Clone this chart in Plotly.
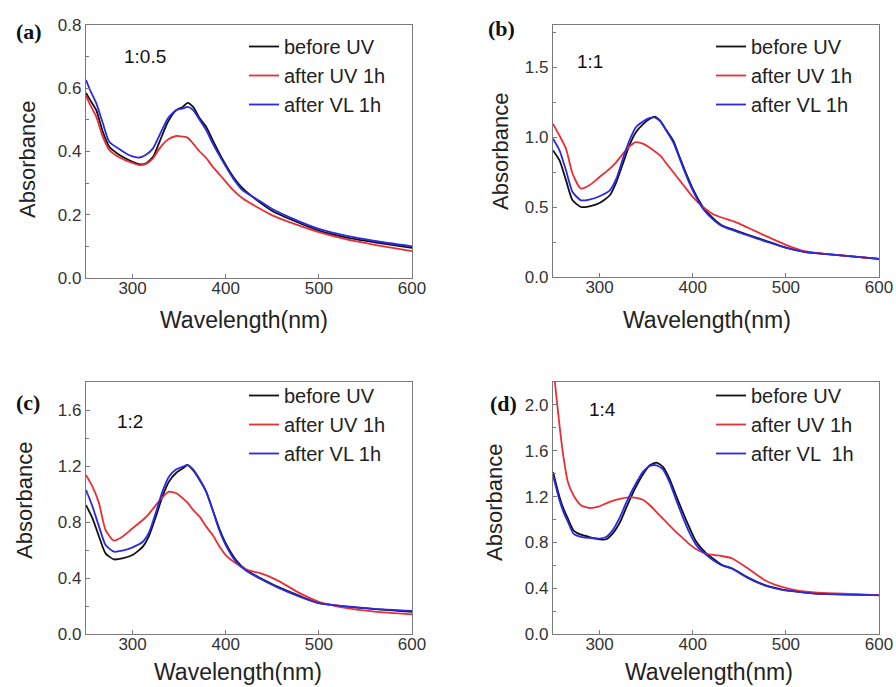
import plotly.graph_objects as go

# ---------------- data ----------------
wl_a = [250, 255, 261, 268, 275, 286, 296, 307, 314, 322, 329, 338, 347, 354, 359, 365, 372, 379, 386, 397, 408, 418, 433, 450, 470, 500, 530, 560, 600]
a_before = [0.585, 0.560, 0.531, 0.463, 0.415, 0.389, 0.373, 0.360, 0.362, 0.383, 0.431, 0.494, 0.531, 0.541, 0.554, 0.541, 0.505, 0.478, 0.436, 0.373, 0.320, 0.284, 0.247, 0.212, 0.185, 0.150, 0.128, 0.113, 0.095]
a_uv = [0.575, 0.545, 0.510, 0.447, 0.405, 0.381, 0.368, 0.357, 0.360, 0.378, 0.410, 0.438, 0.449, 0.447, 0.444, 0.425, 0.400, 0.380, 0.352, 0.315, 0.278, 0.252, 0.225, 0.198, 0.175, 0.145, 0.122, 0.105, 0.085]
a_vl = [0.626, 0.590, 0.553, 0.490, 0.431, 0.407, 0.389, 0.381, 0.389, 0.410, 0.452, 0.505, 0.531, 0.536, 0.541, 0.531, 0.500, 0.468, 0.426, 0.368, 0.315, 0.278, 0.250, 0.218, 0.190, 0.155, 0.133, 0.117, 0.100]

wl_b = [250, 257, 264, 271, 280, 289, 300, 311, 318, 325, 332, 339, 347, 354, 359, 365, 372, 379, 386, 393, 400, 411, 422, 431, 445, 460, 480, 500, 520, 550, 600]
b_before = [0.904, 0.833, 0.690, 0.548, 0.500, 0.505, 0.529, 0.584, 0.678, 0.809, 0.940, 1.034, 1.094, 1.130, 1.146, 1.117, 1.046, 0.975, 0.856, 0.738, 0.631, 0.500, 0.418, 0.370, 0.335, 0.300, 0.255, 0.210, 0.180, 0.160, 0.130]
b_uv = [1.094, 1.010, 0.916, 0.738, 0.631, 0.655, 0.714, 0.774, 0.821, 0.880, 0.932, 0.963, 0.951, 0.923, 0.899, 0.868, 0.809, 0.750, 0.690, 0.631, 0.572, 0.500, 0.448, 0.425, 0.395, 0.350, 0.288, 0.230, 0.185, 0.160, 0.130]
b_vl = [0.987, 0.904, 0.760, 0.607, 0.548, 0.553, 0.577, 0.619, 0.702, 0.845, 0.975, 1.070, 1.113, 1.136, 1.140, 1.113, 1.040, 0.963, 0.845, 0.726, 0.619, 0.488, 0.410, 0.365, 0.330, 0.295, 0.250, 0.210, 0.180, 0.160, 0.130]

wl_c = [250, 257, 264, 271, 280, 289, 300, 311, 318, 325, 332, 339, 347, 354, 359, 365, 372, 379, 386, 393, 400, 411, 422, 431, 437, 455, 480, 500, 530, 560, 600]
c_before = [0.921, 0.826, 0.695, 0.576, 0.533, 0.540, 0.564, 0.624, 0.707, 0.838, 0.981, 1.088, 1.152, 1.183, 1.207, 1.170, 1.100, 1.017, 0.886, 0.755, 0.648, 0.529, 0.457, 0.421, 0.400, 0.340, 0.270, 0.220, 0.195, 0.178, 0.158]
c_uv = [1.136, 1.052, 0.933, 0.743, 0.667, 0.695, 0.755, 0.814, 0.862, 0.921, 0.976, 1.017, 1.005, 0.969, 0.938, 0.886, 0.838, 0.767, 0.707, 0.629, 0.564, 0.505, 0.462, 0.443, 0.435, 0.385, 0.290, 0.230, 0.185, 0.160, 0.140]
c_vl = [1.029, 0.910, 0.767, 0.636, 0.588, 0.595, 0.619, 0.659, 0.731, 0.867, 1.017, 1.124, 1.176, 1.195, 1.207, 1.176, 1.105, 1.017, 0.886, 0.743, 0.636, 0.517, 0.452, 0.417, 0.395, 0.335, 0.265, 0.220, 0.197, 0.180, 0.165]

wl_d = [250, 257, 261, 266, 272, 280, 289, 300, 307, 314, 322, 329, 338, 347, 354, 361, 368, 375, 382, 390, 397, 404, 413, 422, 431, 442, 459, 477, 495, 513, 531, 600]
d_before = [1.415, 1.197, 1.100, 1.007, 0.905, 0.867, 0.847, 0.827, 0.827, 0.876, 0.978, 1.109, 1.269, 1.400, 1.473, 1.496, 1.459, 1.357, 1.211, 1.051, 0.920, 0.803, 0.716, 0.658, 0.605, 0.574, 0.495, 0.428, 0.390, 0.370, 0.355, 0.340]
d_uv = [2.350, 1.820, 1.560, 1.328, 1.211, 1.124, 1.100, 1.115, 1.140, 1.163, 1.180, 1.190, 1.190, 1.170, 1.124, 1.066, 1.007, 0.949, 0.891, 0.833, 0.780, 0.740, 0.705, 0.690, 0.681, 0.661, 0.574, 0.472, 0.413, 0.378, 0.364, 0.340]
d_vl = [1.386, 1.168, 1.070, 0.978, 0.876, 0.847, 0.839, 0.833, 0.847, 0.905, 1.022, 1.153, 1.299, 1.420, 1.467, 1.473, 1.438, 1.328, 1.176, 1.007, 0.876, 0.774, 0.701, 0.643, 0.600, 0.570, 0.490, 0.425, 0.388, 0.368, 0.352, 0.338]

series_names = ["before UV", "after UV 1h", "after VL 1h"]
series_names_d = ["before UV", "after UV 1h", "after VL  1h"]
panel_labels = ["(a)", "(b)", "(c)", "(d)"]
ratio_labels = ["1:0.5", "1:1", "1:2", "1:4"]
y_ranges = [[0, 0.8], [0, 1.8], [0, 1.8], [0, 2.2]]
y_tickvals = [[0.0, 0.2, 0.4, 0.6, 0.8], [0.0, 0.5, 1.0, 1.5], [0.0, 0.4, 0.8, 1.2, 1.6], [0.0, 0.4, 0.8, 1.2, 1.6, 2.0]]
y_minor = [0.1, 0.25, 0.2, 0.2]
x_tickvals = [300, 400, 500, 600]

colors = ["#111111", "#ea2e36", "#2a2ae6"]

W, H = 896, 687
# plot areas in pixels (left, right, top, bottom)
boxes = [(86, 412, 25, 278), (553, 879, 25, 277), (86, 412, 382, 634), (553, 879, 382, 634)]
legend_top = [27, 27, 376, 376]

panels = [
    (wl_a, [a_before, a_uv, a_vl]),
    (wl_b, [b_before, b_uv, b_vl]),
    (wl_c, [c_before, c_uv, c_vl]),
    (wl_d, [d_before, d_uv, d_vl]),
]

fig = go.Figure()
FONT = "Liberation Sans, Arial, sans-serif"
axis_color = "#7a7a7a"

layout = dict(width=W, height=H, margin=dict(l=0, r=0, t=0, b=0, autoexpand=False),
              paper_bgcolor="white", plot_bgcolor="white", annotations=[])

for i, (wl, ys) in enumerate(panels):
    n = i + 1
    xa = "x" if n == 1 else f"x{n}"
    ya = "y" if n == 1 else f"y{n}"
    lg = "legend" if n == 1 else f"legend{n}"
    names = series_names_d if n == 4 else series_names
    for k in range(3):
        fig.add_trace(go.Scatter(x=wl, y=ys[k], mode="lines", name=names[k],
                                 line=dict(color=colors[k], width=1.8, shape="spline", smoothing=0.6),
                                 xaxis=xa, yaxis=ya, legend=lg))
    l, r, t, b = boxes[i]
    xdom = [l / W, r / W]
    ydom = [1 - b / H, 1 - t / H]
    common = dict(showline=True, linecolor=axis_color, linewidth=1.2, mirror=True,
                  ticks="inside", ticklen=4, tickcolor=axis_color, showgrid=False, zeroline=False,
                  automargin=False,
                  tickfont=dict(family=FONT, size=17, color="#333333"))
    layout["xaxis" if n == 1 else f"xaxis{n}"] = dict(domain=xdom, range=[250, 600], tickvals=x_tickvals,
                                                      anchor=ya, ticklabelstandoff=-6, **common)
    layout["yaxis" if n == 1 else f"yaxis{n}"] = dict(domain=ydom, range=y_ranges[i], tickvals=y_tickvals[i],
                                                      tickformat=".1f", anchor=xa,
                                                      minor=dict(ticks="inside", ticklen=3, dtick=y_minor[i],
                                                                 tickcolor=axis_color, showgrid=False),
                                                      **common)
    # legend
    leg_x = (l + 158) / W
    leg_y = 1 - legend_top[i] / H
    layout[lg] = dict(x=leg_x, y=leg_y, xanchor="left", yanchor="top", bgcolor="rgba(0,0,0,0)",
                      font=dict(family=FONT, size=20, color="#222222"), itemwidth=30,
                      tracegroupgap=0)
    lab_pos = [(29, 31), (502, 28), (28, 402), (503, 403)][i]
    rat_pos = [(145, 57), (590, 61), (130, 421), (602, 409)][i]
    yt_pos = [(27, 160), (500, 152), (24, 501), (494, 503)][i]
    xt_pos = [(244, 320), (707, 320), (238, 672), (709, 672)][i]
    texts = [
        (f"<b>{panel_labels[i]}</b>", lab_pos, 0, dict(family="Liberation Serif, Times New Roman, serif", size=22, color="#111111")),
        (ratio_labels[i], rat_pos, 0, dict(family=FONT, size=19, color="#111111")),
        ("Absorbance", yt_pos, -90, dict(family=FONT, size=22, color="#222222")),
        ("Wavelength(nm)", xt_pos, 0, dict(family=FONT, size=23, color="#222222")),
    ]
    for txt, pos, ang, fnt in texts:
        layout["annotations"].append(dict(text=txt, x=pos[0] / W, y=1 - pos[1] / H,
                                          xref="paper", yref="paper", showarrow=False,
                                          xanchor="center", yanchor="middle", textangle=ang,
                                          font=fnt))

fig.update_layout(**layout)
fig.write_html("out.html", config={"displayModeBar": False},
               post_script="document.body.style.margin='0';document.documentElement.style.overflow='hidden';")
